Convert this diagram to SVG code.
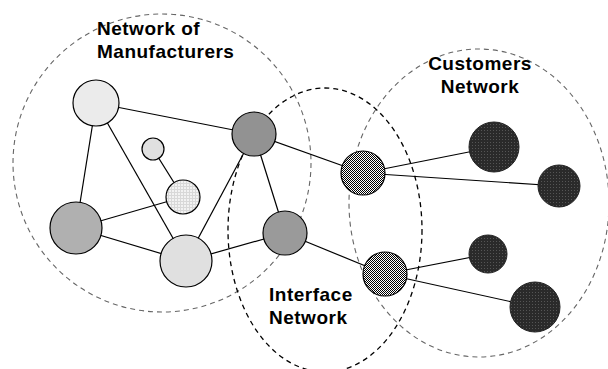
<svg xmlns="http://www.w3.org/2000/svg" width="608" height="369" viewBox="0 0 608 369">
<defs>
<pattern id="checker" width="2" height="2" patternUnits="userSpaceOnUse">
<rect width="2" height="2" fill="#fff"/>
<rect width="1" height="1" fill="#000"/>
<rect x="1" y="1" width="1" height="1" fill="#000"/>
</pattern>
<pattern id="grid" width="3" height="3" patternUnits="userSpaceOnUse">
<rect width="3" height="3" fill="#f2f2f2"/>
<rect width="3" height="1" fill="#d8d8d8"/>
<rect width="1" height="3" fill="#d8d8d8"/>
</pattern>
<pattern id="darkp" width="3" height="3" patternUnits="userSpaceOnUse">
<rect width="3" height="3" fill="#2a2a2a"/>
<rect x="1" y="1" width="1" height="1" fill="#555"/>
</pattern>
</defs>
<style>
.region{fill:none;stroke-width:1.1;stroke-dasharray:5,4}
.gray{stroke:#666}
.blk{stroke:#000;stroke-width:1.3}
.edge{stroke:#000;stroke-width:1.2;fill:none}
.node{stroke:#000;stroke-width:1.2}
.lbl{font-family:"Liberation Sans",Arial,Helvetica,sans-serif;font-weight:bold;font-size:19px;letter-spacing:0.5px;fill:#000}
</style>
<g id="regions">
<circle id="manufacturers-region" class="region gray" cx="162" cy="163" r="149"/>
<ellipse id="customers-region" class="region gray" cx="479" cy="203" rx="130" ry="154"/>
<ellipse id="interface-region" class="region blk" cx="325" cy="230" rx="97" ry="142"/>
</g>
<g id="connectors">
<line class="edge" x1="96" y1="103" x2="254" y2="134"/>
<line class="edge" x1="96" y1="103" x2="76" y2="228"/>
<line class="edge" x1="96" y1="103" x2="186" y2="261"/>
<line class="edge" x1="153" y1="149" x2="183" y2="197"/>
<line class="edge" x1="76" y1="228" x2="183" y2="197"/>
<line class="edge" x1="76" y1="228" x2="186" y2="261"/>
<line class="edge" x1="186" y1="261" x2="254" y2="134"/>
<line class="edge" x1="186" y1="261" x2="285" y2="233"/>
<line class="edge" x1="254" y1="134" x2="285" y2="233"/>
<line class="edge" x1="254" y1="134" x2="363" y2="173"/>
<line class="edge" x1="285" y1="233" x2="385" y2="274"/>
<line class="edge" x1="363" y1="173" x2="494" y2="147"/>
<line class="edge" x1="363" y1="173" x2="559" y2="186"/>
<line class="edge" x1="385" y1="274" x2="488" y2="254"/>
<line class="edge" x1="385" y1="274" x2="535" y2="307"/>
</g>
<g id="n-a"><circle class="node" cx="96" cy="103" r="23" fill="#ebebeb"/></g>
<g id="n-b"><circle class="node" cx="153" cy="149" r="11" fill="#e0e0e0"/></g>
<g id="n-c"><circle class="node" cx="183" cy="197" r="17" fill="url(#grid)"/></g>
<g id="n-d"><circle class="node" cx="76" cy="228" r="26" fill="#b0b0b0"/></g>
<g id="n-e"><circle class="node" cx="186" cy="261" r="26" fill="#e0e0e0"/></g>
<g id="n-f"><circle class="node" cx="254" cy="134" r="22" fill="#929292"/></g>
<g id="n-g"><circle class="node" cx="285" cy="233" r="22" fill="#9a9a9a"/></g>
<g id="n-h"><circle class="node" cx="363" cy="173" r="22" fill="url(#checker)"/></g>
<g id="n-i"><circle class="node" cx="385" cy="274" r="22" fill="url(#checker)"/></g>
<g id="n-j"><circle cx="494" cy="147" r="25" fill="url(#darkp)" stroke="#222"/></g>
<g id="n-k"><circle cx="559" cy="186" r="21" fill="url(#darkp)" stroke="#222"/></g>
<g id="n-l"><circle cx="488" cy="254" r="19" fill="url(#darkp)" stroke="#222"/></g>
<g id="n-m"><circle cx="535" cy="307" r="25" fill="url(#darkp)" stroke="#222"/></g>
<g id="labels">
<text class="lbl" x="97" y="35">Network of</text>
<text class="lbl" x="97" y="58">Manufacturers</text>
<text class="lbl" x="480" y="70" text-anchor="middle">Customers</text>
<text class="lbl" x="480" y="93" text-anchor="middle">Network</text>
<text class="lbl" x="269" y="301">Interface</text>
<text class="lbl" x="269" y="324">Network</text>
</g>
</svg>
